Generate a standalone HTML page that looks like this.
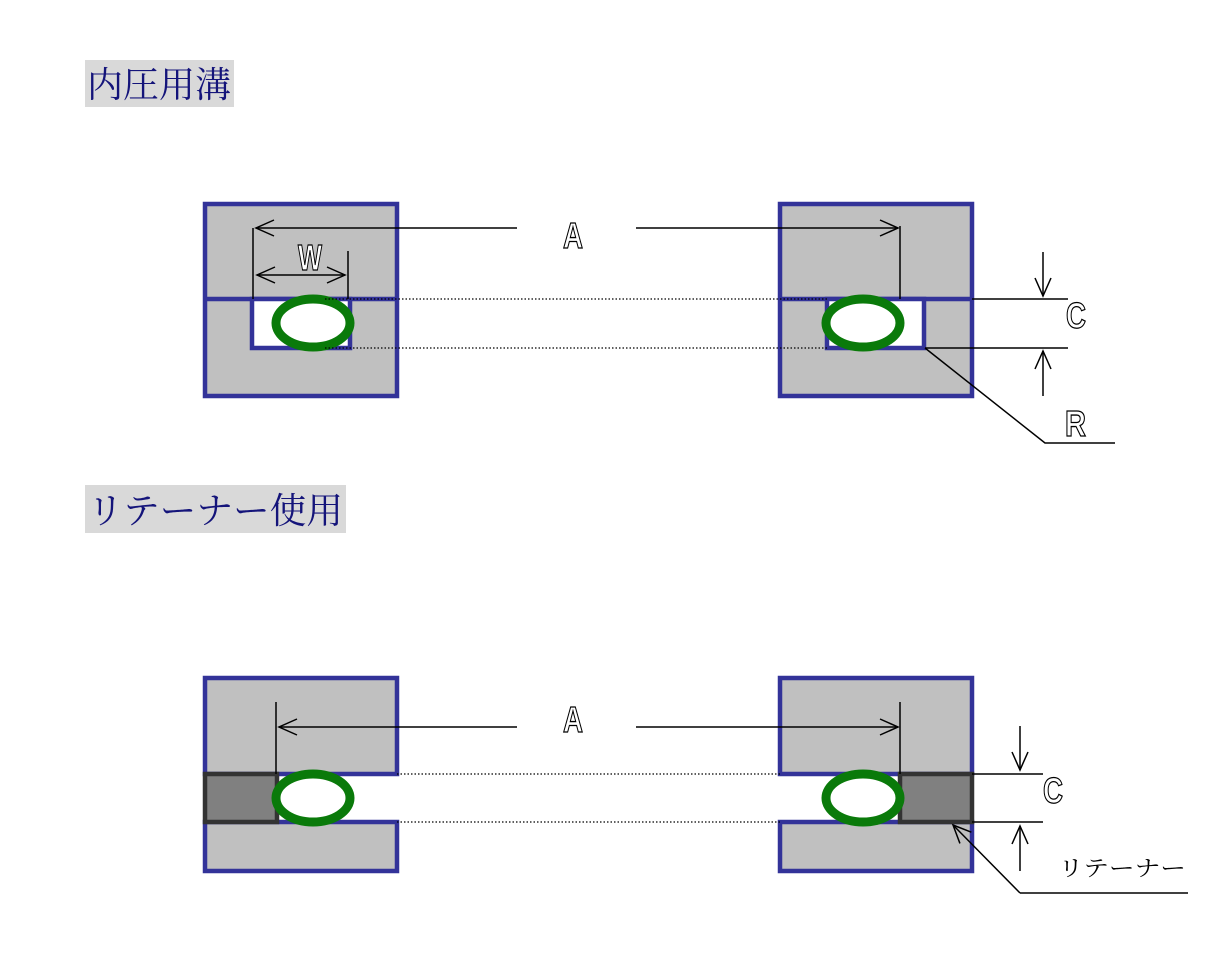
<!DOCTYPE html>
<html><head><meta charset="utf-8"><style>
html,body{margin:0;padding:0;background:#fff;}
svg{display:block;}
.t{font-family:"Liberation Serif","Noto Serif CJK JP",serif;fill:#14147a;font-size:36px;}
.l{font-family:"Liberation Sans Narrow","Liberation Sans","DejaVu Sans",sans-serif;font-size:36px;fill:#fff;stroke:#000;stroke-width:1.3;font-weight:bold;}
</style></head><body>
<svg width="1229" height="967" viewBox="0 0 1229 967" xmlns="http://www.w3.org/2000/svg">
<defs>
<marker id="ah" markerWidth="24" markerHeight="20" refX="20" refY="10" orient="auto" markerUnits="userSpaceOnUse">
<path d="M2,2 L20,10 L2,18" fill="none" stroke="#000" stroke-width="1.5"/>
</marker>
</defs>
<rect x="85" y="60" width="149" height="47" fill="#d9d9d9"/>
<text class="t" x="87" y="97" textLength="144" lengthAdjust="spacingAndGlyphs">内圧用溝</text>
<rect x="85" y="485" width="261" height="48" fill="#d9d9d9"/>
<text class="t" x="87" y="523" textLength="256" lengthAdjust="spacingAndGlyphs">リテーナー使用</text>

<g stroke="#333399" stroke-width="4.5" fill="#c0c0c0">
<rect x="205" y="204" width="192" height="192"/>
<rect x="780" y="204" width="192" height="192"/>
</g>
<g stroke="#333399" stroke-width="4.5">
<line x1="205" y1="299" x2="397" y2="299"/>
<line x1="780" y1="299" x2="972" y2="299"/>
<rect x="252" y="299" width="98" height="49" fill="#fff"/>
<rect x="827" y="299" width="97" height="49" fill="#fff"/>
</g>
<g fill="#fff" stroke="#0a7a0a" stroke-width="9">
<ellipse cx="313" cy="323" rx="37" ry="24"/>
<ellipse cx="863" cy="323" rx="37" ry="24"/>
</g>
<g stroke="#000" stroke-width="1.2" stroke-dasharray="1.5,2">
<line x1="325" y1="299" x2="827" y2="299"/>
<line x1="325" y1="348" x2="827" y2="348"/>
</g>
<g stroke="#000" stroke-width="1.5" fill="none">
<line x1="517" y1="228" x2="256" y2="228" marker-end="url(#ah)"/>
<line x1="636" y1="228" x2="898" y2="228" marker-end="url(#ah)"/>
<line x1="253" y1="228" x2="253" y2="299"/>
<line x1="900" y1="226" x2="900" y2="299"/>
<line x1="300" y1="275" x2="257" y2="275" marker-end="url(#ah)"/>
<line x1="300" y1="275" x2="345" y2="275" marker-end="url(#ah)"/>
<line x1="348" y1="251" x2="348" y2="299"/>
<line x1="972" y1="299" x2="1068" y2="299"/>
<line x1="925" y1="348" x2="1068" y2="348"/>
<line x1="1043" y1="252" x2="1043" y2="296" marker-end="url(#ah)"/>
<line x1="1043" y1="396" x2="1043" y2="351" marker-end="url(#ah)"/>
<polyline points="925,348 1045,443 1115,443"/>
</g>
<text class="l" x="563" y="248" textLength="20" lengthAdjust="spacingAndGlyphs">A</text>
<text class="l" x="298" y="270" textLength="24" lengthAdjust="spacingAndGlyphs">W</text>
<text class="l" x="1066" y="328" textLength="20" lengthAdjust="spacingAndGlyphs">C</text>
<text class="l" x="1065" y="436" textLength="21" lengthAdjust="spacingAndGlyphs">R</text>

<g stroke="#333399" stroke-width="4.5" fill="#c0c0c0">
<rect x="205" y="678" width="192" height="96"/>
<rect x="205" y="822" width="192" height="49"/>
<rect x="780" y="678" width="192" height="96"/>
<rect x="780" y="822" width="192" height="49"/>
</g>
<g stroke="#333" stroke-width="4.5" fill="#808080">
<rect x="205" y="774" width="72" height="48"/>
<rect x="900" y="774" width="72" height="48"/>
</g>
<g fill="#fff" stroke="#0a7a0a" stroke-width="9">
<ellipse cx="313" cy="798" rx="37" ry="24"/>
<ellipse cx="863" cy="798" rx="37" ry="24"/>
</g>
<g stroke="#000" stroke-width="1.2" stroke-dasharray="1.5,2">
<line x1="397" y1="774" x2="780" y2="774"/>
<line x1="397" y1="822" x2="780" y2="822"/>
</g>
<g stroke="#000" stroke-width="1.5" fill="none">
<line x1="517" y1="727" x2="279" y2="727" marker-end="url(#ah)"/>
<line x1="636" y1="727" x2="898" y2="727" marker-end="url(#ah)"/>
<line x1="276" y1="702" x2="276" y2="774"/>
<line x1="900" y1="702" x2="900" y2="774"/>
<line x1="972" y1="774" x2="1043" y2="774"/>
<line x1="972" y1="822" x2="1043" y2="822"/>
<line x1="1020" y1="726" x2="1020" y2="770" marker-end="url(#ah)"/>
<line x1="1020" y1="871" x2="1020" y2="826" marker-end="url(#ah)"/>
<line x1="1020" y1="893" x2="953" y2="825" marker-end="url(#ah)"/>
<line x1="1020" y1="893" x2="1188" y2="893"/>
</g>
<text class="l" x="563" y="732" textLength="20" lengthAdjust="spacingAndGlyphs">A</text>
<text class="l" x="1043" y="803" textLength="20" lengthAdjust="spacingAndGlyphs">C</text>
<text x="1058" y="876" font-family="'Liberation Serif','Noto Serif CJK JP',serif" font-size="22" fill="#000" textLength="128" lengthAdjust="spacingAndGlyphs">リテーナー</text>
</svg>
</body></html>
